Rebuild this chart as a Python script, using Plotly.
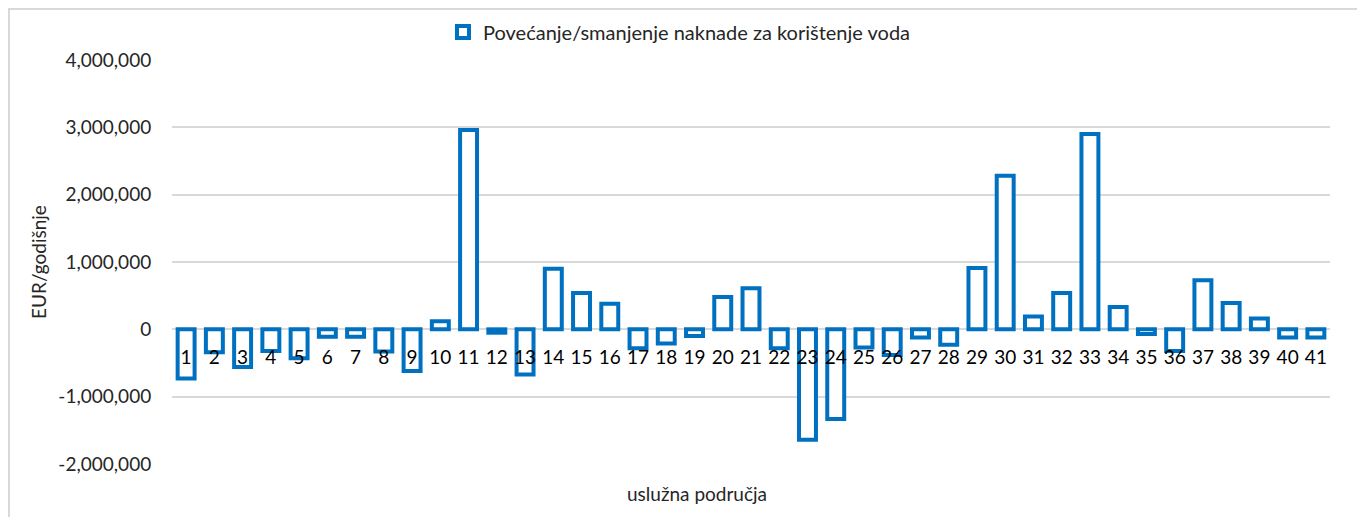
import plotly.graph_objects as go

categories = [str(i) for i in range(1, 42)]
values = [
    -730000, -340000, -560000, -320000, -430000, -110000, -110000, -330000, -620000, 120000,
    2960000, -50000, -670000, 900000, 540000, 380000, -280000, -210000, -100000, 480000,
    610000, -280000, -1640000, -1330000, -270000, -380000, -120000, -230000, 910000, 2280000,
    190000, 540000, 2900000, 330000, -70000, -320000, 730000, 390000, 160000, -120000,
    -120000,
]
series_name = "Povećanje/smanjenje naknade za korištenje voda"
y_title = "EUR/godišnje"
x_title = "uslužna područja"
y_ticks = [-2000000, -1000000, 0, 1000000, 2000000, 3000000, 4000000]
y_tick_labels = ["-2,000,000", "-1,000,000", "0", "1,000,000", "2,000,000", "3,000,000", "4,000,000"]
y_range = [-2000000, 4000000]

FONT = "Lato"
TXT = "#262626"
BLUE = "#0070C0"
GRID = "#D9D9D9"

# page has an 8px body margin; size the figure so the plot area lands at page (172..1330, 60..464)
OFF = 8
W, H = 1365 - OFF, 517 - OFF
PL, PR, PT, PB = 172, 1330, 60, 464
ML, MR, MT, MB = PL - OFF, W + OFF - PR, PT - OFF, H + OFF - PB
pw, ph = PR - PL, PB - PT


def px_x(px):
    return (px - PL) / pw


def px_y(py):
    return (PB - py) / ph


fig = go.Figure()
fig.add_trace(go.Bar(
    x=categories, y=values, name=series_name,
    marker=dict(color="white", line=dict(color=BLUE, width=4)),
    showlegend=True,
))

zero_pos = (0 - y_range[0]) / (y_range[1] - y_range[0])

fig.update_layout(
    width=W, height=H,
    margin=dict(l=ML, r=MR, t=MT, b=MB, autoexpand=False),
    paper_bgcolor="white", plot_bgcolor="white",
    font=dict(family=FONT, size=19, color=TXT),
    bargap=0.4,
    showlegend=True,
    legend=dict(orientation="h", x=px_x(443), xanchor="left",
                y=px_y(32), yanchor="middle",
                font=dict(family=FONT, size=20, color=TXT),
                bgcolor="rgba(0,0,0,0)", itemwidth=30),
    xaxis=dict(
        type="category", anchor="free", position=zero_pos,
        showgrid=False, showline=False, zeroline=False,
        ticks="outside", ticklen=11, tickcolor="rgba(0,0,0,0)",
        tickfont=dict(family=FONT, size=19, color="#000000"),
        fixedrange=True,
    ),
    yaxis=dict(
        range=y_range, tickvals=y_ticks, ticktext=y_tick_labels,
        showgrid=True, gridcolor=GRID, gridwidth=1.5,
        zeroline=True, zerolinecolor=GRID, zerolinewidth=1.5,
        showline=False, ticks="outside", ticklen=16, tickcolor="rgba(0,0,0,0)",
        tickfont=dict(family=FONT, size=19, color=TXT),
        title=dict(text=y_title, font=dict(family=FONT, size=19, color=TXT), standoff=6),
    ),
    annotations=[
        dict(text=x_title, xref="paper", yref="paper",
             x=px_x(697), y=px_y(493),
             xanchor="center", yanchor="middle", showarrow=False,
             font=dict(family=FONT, size=19, color=TXT)),
    ],
    shapes=[
        dict(type="rect", xref="paper", yref="paper",
             x0=px_x(OFF + 1), x1=px_x(1360),
             y0=px_y(530), y1=px_y(OFF + 1),
             line=dict(color=GRID, width=2), fillcolor="rgba(0,0,0,0)", layer="below"),
    ],
)

fig.write_html("out.html")
